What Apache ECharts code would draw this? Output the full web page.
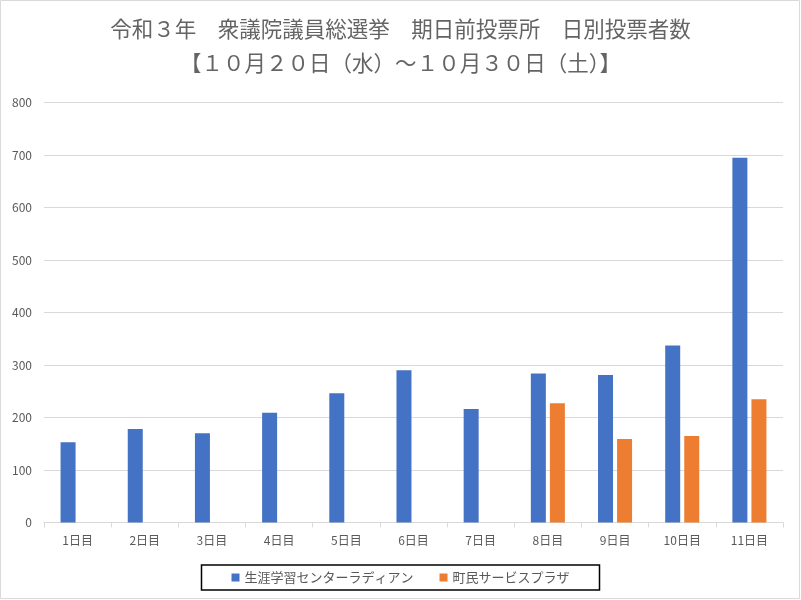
<!DOCTYPE html>
<html><head><meta charset="utf-8">
<script src="https://cdn.jsdelivr.net/npm/echarts@6/dist/echarts.min.js"></script>
<style>html,body{margin:0;padding:0;background:#fff}#c{width:801px;height:600px}</style>
</head><body><div id="c"></div>
<script>
const categories = ['1日目','2日目','3日目','4日目','5日目','6日目','7日目','8日目','9日目','10日目','11日目'];
const seriesNames = ['生涯学習センターラディアン','町民サービスプラザ'];
const radianValues = [153, 178, 170, 209, 246, 290, 216, 284, 281, 337, 695];
const plazaValues = [null, null, null, null, null, null, null, 227, 159, 165, 235];
const yTicks = {min: 0, max: 800, interval: 100};
const titleLine1 = '令和３年　衆議院議員総選挙　期日前投票所　日別投票者数';
const titleLine2 = '【１０月２０日（水）～１０月３０日（土）】';

const font = '"Noto Sans CJK JP", "Noto Sans", sans-serif';
const chart = echarts.init(document.getElementById('c'), null, {renderer: 'canvas'});
chart.setOption({
  animation: false,
  textStyle: {fontFamily: font},
  graphic: [{type: 'rect', shape: {x: 0.5, y: 0.5, width: 799, height: 598}, style: {fill: 'none', stroke: '#d9d9d9', lineWidth: 1}, silent: true}],
  title: {
    text: titleLine1 + '\n' + titleLine2,
    left: 'center', top: 7,
    textStyle: {fontFamily: font, fontSize: 21.5, fontWeight: 'normal', color: '#646464', lineHeight: 34}
  },
  grid: {left: 44, right: 18, top: 102.5, bottom: 77.5},
  legend: {
    data: seriesNames,
    bottom: 10, left: 'center',
    icon: 'rect', itemWidth: 8, itemHeight: 8, itemGap: 26,
    borderColor: '#000', borderWidth: 1.5,
    padding: [6, 30, 6, 30],
    textStyle: {fontFamily: font, fontSize: 13, color: '#595959'}
  },
  xAxis: {
    type: 'category', data: categories,
    axisLine: {lineStyle: {color: '#d9d9d9'}},
    axisTick: {show: true, length: 5, lineStyle: {color: '#d9d9d9'}},
    axisLabel: {fontFamily: font, fontSize: 12, color: '#595959', margin: 12}
  },
  yAxis: {
    type: 'value', min: yTicks.min, max: yTicks.max, interval: yTicks.interval,
    axisLine: {show: false}, axisTick: {show: false},
    splitLine: {lineStyle: {color: '#d9d9d9'}},
    axisLabel: {fontFamily: font, fontSize: 12, color: '#595959', margin: 12}
  },
  series: [
    {name: seriesNames[0], type: 'bar', data: radianValues, barWidth: 15, barGap: '27%', itemStyle: {color: '#4472c4'}},
    {name: seriesNames[1], type: 'bar', data: plazaValues, barWidth: 15, barGap: '27%', itemStyle: {color: '#ed7d31'}}
  ]
});
</script></body></html>
